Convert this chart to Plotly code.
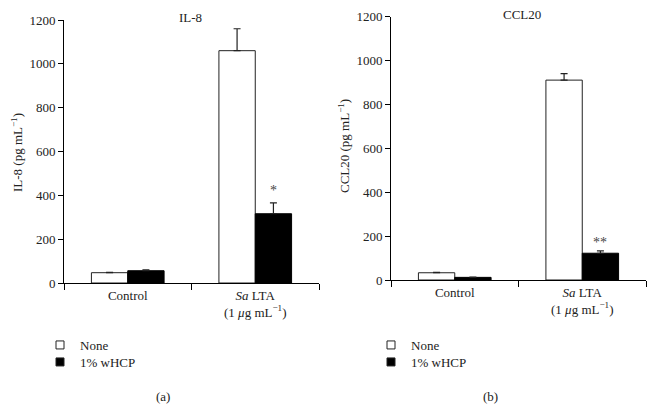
import plotly.graph_objects as go

categories = ["Control", "Sa LTA"]
cat_labels = ["Control", "<i>Sa</i> LTA<br>(1 <i>μ</i>g mL<sup>−1</sup>)"]
series_names = ["None", "1% wHCP"]

il8_none = [47, 1060]
il8_none_err = [2, 100]
il8_hcp = [56, 316]
il8_hcp_err = [4, 50]

ccl20_none = [33, 911]
ccl20_none_err = [2, 30]
ccl20_hcp = [12, 122]
ccl20_hcp_err = [1, 11]

y_ticks = [0, 200, 400, 600, 800, 1000, 1200]

FONT = "Liberation Serif"
FS = 13
W, H = 654, 410
xpos = [0.5, 1.5]

fig = go.Figure()

def add_panel(none_vals, none_err, hcp_vals, hcp_err, xa, ya, legends):
    fig.add_trace(go.Bar(
        x=xpos, y=none_vals, name=series_names[0], xaxis=xa, yaxis=ya,
        offset=-0.285, width=0.285, showlegend=False,
        marker=dict(color="white", line=dict(color="#222", width=1)),
        error_y=dict(type="data", symmetric=False, array=none_err,
                     arrayminus=[0, 0], color="#222", thickness=1.2, width=3.5),
    ))
    fig.add_trace(go.Bar(
        x=xpos, y=hcp_vals, name=series_names[1], xaxis=xa, yaxis=ya,
        offset=0, width=0.285, showlegend=False,
        marker=dict(color="black", line=dict(color="black", width=1)),
        error_y=dict(type="data", symmetric=False, array=hcp_err,
                     arrayminus=[0, 0], color="#222", thickness=1.2, width=3.5),
    ))
    # legend entries
    for name, col, lg in zip(series_names, ["white", "black"], legends):
        fig.add_trace(go.Scatter(
            x=[None], y=[None], mode="markers", name=name, xaxis=xa, yaxis=ya,
            marker=dict(symbol="square", size=8, color=col,
                        line=dict(color="#222", width=1)),
            legend=lg,
        ))

add_panel(il8_none, il8_none_err, il8_hcp, il8_hcp_err, "x", "y", ["legend", "legend2"])
add_panel(ccl20_none, ccl20_none_err, ccl20_hcp, ccl20_hcp_err, "x2", "y2", ["legend3", "legend4"])

def xax(domain, anchor):
    return dict(
        domain=domain, anchor=anchor, range=[0, 2], automargin=False,
        tickvals=xpos, ticktext=cat_labels, ticks="",
        showline=True, linecolor="black", linewidth=1,
        showgrid=False, zeroline=False,
        tickfont=dict(family=FONT, size=FS, color="#222"),
        minor=dict(tickvals=[0, 1, 2], ticks="outside", ticklen=6,
                   tickcolor="black", showgrid=False),
    )

def yax(domain, anchor):
    return dict(
        domain=domain, anchor=anchor, range=[0, 1200], automargin=False,
        tickvals=y_ticks, ticks="outside", ticklen=5, tickcolor="black",
        showline=True, linecolor="black", linewidth=1,
        showgrid=False, zeroline=False,
        tickfont=dict(family=FONT, size=FS, color="#222"),
    )

def leg(xpx, ypx):
    return dict(x=xpx / W, y=1 - ypx / H, xanchor="left", yanchor="top",
                font=dict(family=FONT, size=FS), bgcolor="rgba(0,0,0,0)",
                itemwidth=30, tracegroupgap=0)

fig.update_layout(
    width=W, height=H,
    margin=dict(l=0, r=0, t=0, b=0),
    paper_bgcolor="white", plot_bgcolor="white",
    font=dict(family=FONT, size=FS, color="#222"),
    barmode="overlay",
    xaxis=xax([64 / W, 319 / W], "y"),
    yaxis=yax([1 - 283 / H, 1 - 20 / H], "x"),
    xaxis2=xax([391 / W, 646 / W], "y2"),
    yaxis2=yax([1 - 280 / H, 1 - 16.7 / H], "x2"),
    legend=leg(40, 330),
    legend2=leg(40, 347),
    legend3=leg(371, 330),
    legend4=leg(371, 347),
    showlegend=True,
)

ann = [
    dict(text="IL-8", x=190 / W, y=1 - 17 / H),
    dict(text="CCL20", x=522 / W, y=1 - 14 / H),
    dict(text="IL-8 (pg mL<sup>−1</sup>)", x=17 / W, y=1 - 153 / H, textangle=-90),
    dict(text="CCL20 (pg mL<sup>−1</sup>)", x=344 / W, y=1 - 146 / H, textangle=-90),
    dict(text="(a)", x=163 / W, y=1 - 396 / H),
    dict(text="(b)", x=490 / W, y=1 - 396 / H),
]
for a in ann:
    fig.add_annotation(xref="paper", yref="paper", showarrow=False,
                       xanchor="center", yanchor="middle",
                       font=dict(family=FONT, size=FS, color="#222"), **a)

fig.add_annotation(x=1.5 + 0.1425, y=424, xref="x", yref="y", text="*",
                   showarrow=False, font=dict(family=FONT, size=14, color="#444"))
fig.add_annotation(x=1.5 + 0.1425, y=170, xref="x2", yref="y2", text="**",
                   showarrow=False, font=dict(family=FONT, size=14, color="#444"))

fig.write_html("out.html", config={"displayModeBar": False},
               post_script="document.body.style.margin='0';document.body.style.padding='0';")
